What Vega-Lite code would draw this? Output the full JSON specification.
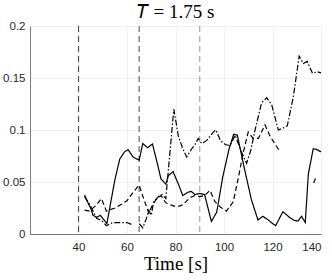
{
  "$schema": "https://vega.github.io/schema/vega-lite/v6.json",
  "width": 291,
  "height": 208,
  "autosize": "none",
  "padding": {"left": 30, "top": 26, "right": 11, "bottom": 46},
  "background": "white",
  "title": {"text": "𝑇 = 1.75 s", "font": "Liberation Serif", "fontSize": 19, "fontWeight": "normal", "color": "#000000", "offset": 5, "dy": 7, "anchor": "middle"},
  "config": {
    "view": {"stroke": null},
    "axis": {"domainColor": "#262626", "domainWidth": 0.6, "gridColor": "#e6e6e6", "gridWidth": 0.6, "ticks": false, "labelFont": "Liberation Sans", "labelFontSize": 11.5, "labelColor": "#262626", "titleFont": "Liberation Serif", "titleFontWeight": "normal", "titleColor": "#000000"}
  },
  "encoding": {
    "x": {"field": "t", "type": "quantitative", "scale": {"domain": [20, 140], "nice": false, "zero": false},
      "axis": {"values": [40, 60, 80, 100, 120, 140], "title": "Time [s]", "titleFontSize": 19, "titlePadding": 2, "labelPadding": 7}}
  },
  "layer": [
    {
      "data": {"values": [{"t": 40, "c": "a"}, {"t": 65, "c": "a"}, {"t": 90, "c": "b"}]},
      "mark": {"type": "rule", "strokeDash": [6, 4], "strokeWidth": 0.9},
      "encoding": {"color": {"field": "c", "type": "nominal", "scale": {"domain": ["a", "b"], "range": ["#333333", "#8c8c8c"]}, "legend": null}}
    },
    {
      "data": {"values": [
        {"t": 42.5, "v": 0.0375, "s": "solid", "g": "A"},
        {"t": 43.5, "v": 0.032, "s": "solid", "g": "A"},
        {"t": 45, "v": 0.025, "s": "solid", "g": "A"},
        {"t": 46, "v": 0.018, "s": "solid", "g": "A"},
        {"t": 47.5, "v": 0.016, "s": "solid", "g": "A"},
        {"t": 49, "v": 0.018, "s": "solid", "g": "A"},
        {"t": 51.7, "v": 0.010, "s": "solid", "g": "A"},
        {"t": 53.5, "v": 0.033, "s": "solid", "g": "A"},
        {"t": 55, "v": 0.052, "s": "solid", "g": "A"},
        {"t": 57, "v": 0.072, "s": "solid", "g": "A"},
        {"t": 59, "v": 0.079, "s": "solid", "g": "A"},
        {"t": 60.5, "v": 0.081, "s": "solid", "g": "A"},
        {"t": 62.5, "v": 0.074, "s": "solid", "g": "A"},
        {"t": 65, "v": 0.071, "s": "solid", "g": "A"},
        {"t": 66.5, "v": 0.087, "s": "solid", "g": "A"},
        {"t": 68.5, "v": 0.083, "s": "solid", "g": "A"},
        {"t": 70.5, "v": 0.0865, "s": "solid", "g": "A"},
        {"t": 72.5, "v": 0.068, "s": "solid", "g": "A"},
        {"t": 74, "v": 0.053, "s": "solid", "g": "A"},
        {"t": 76, "v": 0.048, "s": "solid", "g": "A"},
        {"t": 77, "v": 0.056, "s": "solid", "g": "A"},
        {"t": 79, "v": 0.060, "s": "solid", "g": "A"},
        {"t": 81, "v": 0.049, "s": "solid", "g": "A"},
        {"t": 83, "v": 0.037, "s": "solid", "g": "A"},
        {"t": 85, "v": 0.040, "s": "solid", "g": "A"},
        {"t": 86.5, "v": 0.041, "s": "solid", "g": "A"},
        {"t": 88, "v": 0.038, "s": "solid", "g": "A"},
        {"t": 90, "v": 0.039, "s": "solid", "g": "A"},
        {"t": 92, "v": 0.038, "s": "solid", "g": "A"},
        {"t": 94.8, "v": 0.012, "s": "solid", "g": "A"},
        {"t": 97, "v": 0.021, "s": "solid", "g": "A"},
        {"t": 99.5, "v": 0.055, "s": "solid", "g": "A"},
        {"t": 102, "v": 0.081, "s": "solid", "g": "A"},
        {"t": 104, "v": 0.096, "s": "solid", "g": "A"},
        {"t": 105.5, "v": 0.095, "s": "solid", "g": "A"},
        {"t": 108.5, "v": 0.062, "s": "solid", "g": "A"},
        {"t": 111.3, "v": 0.033, "s": "solid", "g": "A"},
        {"t": 114, "v": 0.0135, "s": "solid", "g": "A"},
        {"t": 116, "v": 0.017, "s": "solid", "g": "A"},
        {"t": 118, "v": 0.014, "s": "solid", "g": "A"},
        {"t": 119.5, "v": 0.011, "s": "solid", "g": "A"},
        {"t": 121.3, "v": 0.008, "s": "solid", "g": "A"},
        {"t": 124.3, "v": 0.0215, "s": "solid", "g": "A"},
        {"t": 127, "v": 0.016, "s": "solid", "g": "A"},
        {"t": 129, "v": 0.013, "s": "solid", "g": "A"},
        {"t": 130.5, "v": 0.0125, "s": "solid", "g": "A"},
        {"t": 132, "v": 0.017, "s": "solid", "g": "A"},
        {"t": 133.5, "v": 0.011, "s": "solid", "g": "A"},
        {"t": 134.8, "v": 0.058, "s": "solid", "g": "A"},
        {"t": 136.8, "v": 0.082, "s": "solid", "g": "A"},
        {"t": 138.5, "v": 0.081, "s": "solid", "g": "A"},
        {"t": 140, "v": 0.079, "s": "solid", "g": "A"},

        {"t": 42.5, "v": 0.023, "s": "dashed", "g": "B1"},
        {"t": 44.5, "v": 0.022, "s": "dashed", "g": "B1"},
        {"t": 47, "v": 0.027, "s": "dashed", "g": "B1"},
        {"t": 49.5, "v": 0.034, "s": "dashed", "g": "B1"},
        {"t": 51.5, "v": 0.022, "s": "dashed", "g": "B1"},
        {"t": 55, "v": 0.025, "s": "dashed", "g": "B1"},
        {"t": 58, "v": 0.029, "s": "dashed", "g": "B1"},
        {"t": 60, "v": 0.032, "s": "dashed", "g": "B1"},
        {"t": 62.5, "v": 0.040, "s": "dashed", "g": "B1"},
        {"t": 65, "v": 0.047, "s": "dashed", "g": "B1"},
        {"t": 67, "v": 0.033, "s": "dashed", "g": "B1"},
        {"t": 69, "v": 0.020, "s": "dashed", "g": "B1"},
        {"t": 70.5, "v": 0.028, "s": "dashed", "g": "B1"},
        {"t": 72, "v": 0.033, "s": "dashed", "g": "B1"},
        {"t": 74, "v": 0.037, "s": "dashed", "g": "B1"},
        {"t": 76, "v": 0.030, "s": "dashed", "g": "B1"},
        {"t": 78, "v": 0.028, "s": "dashed", "g": "B1"},
        {"t": 80.5, "v": 0.026, "s": "dashed", "g": "B1"},
        {"t": 83, "v": 0.028, "s": "dashed", "g": "B1"},
        {"t": 86, "v": 0.035, "s": "dashed", "g": "B1"},
        {"t": 88, "v": 0.037, "s": "dashed", "g": "B1"},
        {"t": 90, "v": 0.036, "s": "dashed", "g": "B1"},
        {"t": 92, "v": 0.037, "s": "dashed", "g": "B1"},
        {"t": 94.2, "v": 0.042, "s": "dashed", "g": "B1"},
        {"t": 96.3, "v": 0.031, "s": "dashed", "g": "B1"},
        {"t": 98.5, "v": 0.026, "s": "dashed", "g": "B1"},
        {"t": 101, "v": 0.022, "s": "dashed", "g": "B1"},
        {"t": 103.8, "v": 0.031, "s": "dashed", "g": "B1"},
        {"t": 106, "v": 0.055, "s": "dashed", "g": "B1"},
        {"t": 108, "v": 0.079, "s": "dashed", "g": "B1"},
        {"t": 110, "v": 0.098, "s": "dashed", "g": "B1"},
        {"t": 112, "v": 0.092, "s": "dashed", "g": "B1"},
        {"t": 114.2, "v": 0.092, "s": "dashed", "g": "B1"},
        {"t": 116.9, "v": 0.105, "s": "dashed", "g": "B1"},
        {"t": 119, "v": 0.094, "s": "dashed", "g": "B1"},
        {"t": 122.3, "v": 0.082, "s": "dashed", "g": "B1"},
        {"t": 123.3, "v": 0.079, "s": "dashed", "g": "B1"},
        {"t": 137, "v": 0.049, "s": "dashed", "g": "B2"},
        {"t": 137.8, "v": 0.054, "s": "dashed", "g": "B2"},

        {"t": 42.5, "v": 0.036, "s": "dashdot", "g": "C1"},
        {"t": 44.7, "v": 0.028, "s": "dashdot", "g": "C1"},
        {"t": 46, "v": 0.022, "s": "dashdot", "g": "C1"},
        {"t": 47.5, "v": 0.015, "s": "dashdot", "g": "C1"},
        {"t": 49.5, "v": 0.013, "s": "dashdot", "g": "C1"},
        {"t": 51.5, "v": 0.008, "s": "dashdot", "g": "C1"},
        {"t": 54, "v": 0.011, "s": "dashdot", "g": "C1"},
        {"t": 57, "v": 0.011, "s": "dashdot", "g": "C1"},
        {"t": 60, "v": 0.011, "s": "dashdot", "g": "C1"},
        {"t": 62, "v": 0.009, "s": "dashdot", "g": "C1"},
        {"t": 65, "v": 0.010, "s": "dashdot", "g": "C2"},
        {"t": 66.5, "v": 0.006, "s": "dashdot", "g": "C2"},
        {"t": 68, "v": 0.015, "s": "dashdot", "g": "C2"},
        {"t": 69, "v": 0.023, "s": "dashdot", "g": "C2"},
        {"t": 70, "v": 0.018, "s": "dashdot", "g": "C2"},
        {"t": 71, "v": 0.031, "s": "dashdot", "g": "C2"},
        {"t": 73, "v": 0.036, "s": "dashdot", "g": "C2"},
        {"t": 74.5, "v": 0.038, "s": "dashdot", "g": "C2"},
        {"t": 76, "v": 0.034, "s": "dashdot", "g": "C2"},
        {"t": 79.3, "v": 0.120, "s": "dashdot", "g": "C2"},
        {"t": 81.2, "v": 0.094, "s": "dashdot", "g": "C2"},
        {"t": 83, "v": 0.082, "s": "dashdot", "g": "C2"},
        {"t": 84.6, "v": 0.074, "s": "dashdot", "g": "C2"},
        {"t": 86.7, "v": 0.082, "s": "dashdot", "g": "C2"},
        {"t": 88, "v": 0.086, "s": "dashdot", "g": "C2"},
        {"t": 89.4, "v": 0.092, "s": "dashdot", "g": "C2"},
        {"t": 90.8, "v": 0.087, "s": "dashdot", "g": "C2"},
        {"t": 92.9, "v": 0.090, "s": "dashdot", "g": "C2"},
        {"t": 95.6, "v": 0.098, "s": "dashdot", "g": "C2"},
        {"t": 96.7, "v": 0.100, "s": "dashdot", "g": "C2"},
        {"t": 98.5, "v": 0.090, "s": "dashdot", "g": "C2"},
        {"t": 100.5, "v": 0.086, "s": "dashdot", "g": "C2"},
        {"t": 102.5, "v": 0.085, "s": "dashdot", "g": "C2"},
        {"t": 104.6, "v": 0.095, "s": "dashdot", "g": "C2"},
        {"t": 107, "v": 0.080, "s": "dashdot", "g": "C2"},
        {"t": 109.3, "v": 0.068, "s": "dashdot", "g": "C2"},
        {"t": 111, "v": 0.080, "s": "dashdot", "g": "C2"},
        {"t": 112.8, "v": 0.100, "s": "dashdot", "g": "C2"},
        {"t": 115.5, "v": 0.126, "s": "dashdot", "g": "C2"},
        {"t": 117.6, "v": 0.131, "s": "dashdot", "g": "C2"},
        {"t": 119.7, "v": 0.124, "s": "dashdot", "g": "C2"},
        {"t": 122.4, "v": 0.100, "s": "dashdot", "g": "C2"},
        {"t": 124.5, "v": 0.102, "s": "dashdot", "g": "C2"},
        {"t": 126.1, "v": 0.104, "s": "dashdot", "g": "C2"},
        {"t": 128.6, "v": 0.132, "s": "dashdot", "g": "C2"},
        {"t": 131, "v": 0.171, "s": "dashdot", "g": "C2"},
        {"t": 132.7, "v": 0.164, "s": "dashdot", "g": "C2"},
        {"t": 134.3, "v": 0.166, "s": "dashdot", "g": "C2"},
        {"t": 136.5, "v": 0.1545, "s": "dashdot", "g": "C2"},
        {"t": 138.5, "v": 0.156, "s": "dashdot", "g": "C2"},
        {"t": 140, "v": 0.155, "s": "dashdot", "g": "C2"}
      ]},
      "mark": {"type": "line", "color": "#000000", "strokeWidth": 1.2},
      "encoding": {
        "y": {"field": "v", "type": "quantitative", "scale": {"domain": [0, 0.2], "nice": false},
          "axis": {"values": [0, 0.05, 0.1, 0.15, 0.2], "format": ".2~f", "title": null, "labelPadding": 5}},
        "strokeDash": {"field": "s", "type": "nominal", "scale": {"domain": ["solid", "dashed", "dashdot"], "range": [[1, 0], [5, 3], [6, 2, 1.5, 2]]}, "legend": null},
        "detail": {"field": "g", "type": "nominal"},
        "order": {"field": "t", "type": "quantitative"}
      }
    }
  ]
}
